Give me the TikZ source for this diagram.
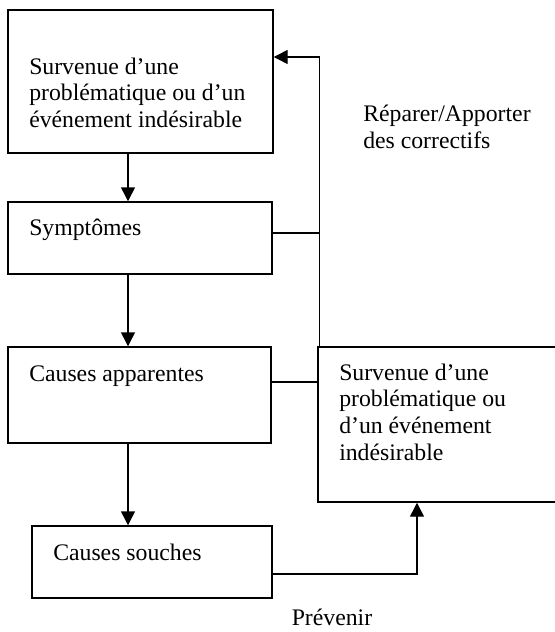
\documentclass[tikz,border=0pt]{standalone}
\usepackage{fontspec}
\setmainfont{Liberation Serif}
\usetikzlibrary{arrows.meta,fit}
\begin{document}
\begin{tikzpicture}[x=0.75pt,y=-0.75pt,
  box/.style={draw,line width=1.1pt,inner sep=0pt,rectangle},
  lbl/.style={inner sep=0pt,anchor=base west,font=\fontsize{17.8pt}{20pt}\selectfont},
  clbl/.style={inner sep=0pt,anchor=base,font=\fontsize{17.8pt}{20pt}\selectfont},
  link/.style={line width=1.1pt},
  arr/.style={line width=1.1pt,-{Triangle[length=10.5pt,width=10.5pt]}}]
\useasboundingbox (0,0) rectangle (555,632);
\clip (0,0) rectangle (555,632);
% boxes
\node[box,fit={(8,10) (273,153)}] (b1) {};
\node[box,fit={(8,202) (272,274)}] (b2) {};
\node[box,fit={(8,347) (271,443)}] (b3) {};
\node[box,fit={(32,526) (272,598)}] (b4) {};
\node[box,fit={(318,347) (600,502)}] (b5) {};
% texts
\node[lbl] (t1a) at (29,74) {Survenue d’une};
\node[lbl] (t1b) at (29,100.5) {problématique ou d’un};
\node[lbl] (t1c) at (29,127) {événement indésirable};
\node[lbl] (t2) at (29,235) {Symptômes};
\node[lbl] (t3) at (29,381) {Causes apparentes};
\node[lbl] (t4) at (53,560) {Causes souches};
\node[lbl] (t5a) at (339,380) {Survenue d’une};
\node[lbl] (t5b) at (339,406.7) {problématique ou};
\node[lbl] (t5c) at (339,433.3) {d’un événement};
\node[lbl] (t5d) at (339,460) {indésirable};
\node[lbl] (r1) at (363,121.7) {Réparer/Apporter};
\node[lbl] (r2) at (363,148.3) {des correctifs};
\node[clbl] (p1) at (332,625.5) {Prévenir};
% helper coordinates
\coordinate (xa) at (128,0);
\coordinate (xv) at (319.5,0);
\coordinate (xu) at (417,0);
\coordinate (ya) at (0,57);
\coordinate (ys) at (0,233);
\coordinate (yc) at (0,382);
\coordinate (yd) at (0,574);
% connectors
\draw[arr] (b1.south -| xa) -- (b2.north -| xa);
\draw[arr] (b2.south -| xa) -- (b3.north -| xa);
\draw[arr] (b3.south -| xa) -- (b4.north -| xa);
\draw[arr] (b5.north -| xv) -- (xv |- ya) -- (b1.east |- ya);
\draw[link] (b2.east |- ys) -- (xv |- ys);
\draw[link] (b3.east |- yc) -- (b5.west |- yc);
\draw[arr] (b4.east |- yd) -- (xu |- yd) -- (b5.south -| xu);
\end{tikzpicture}
\end{document}
